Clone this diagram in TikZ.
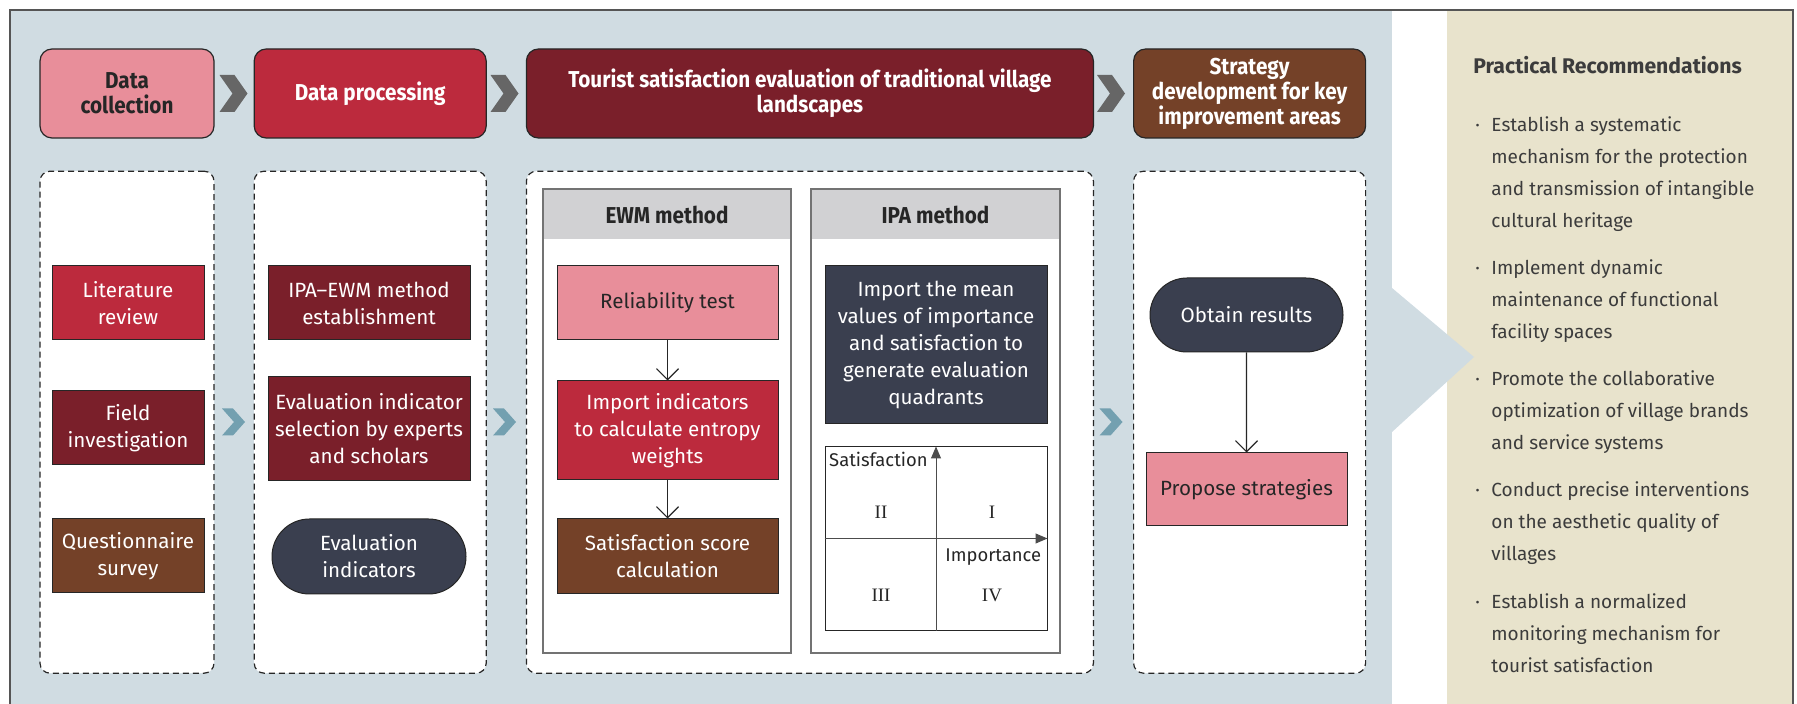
\documentclass[tikz,border=0pt]{standalone}
\usepackage{fontspec}
\setmainfont{Fira Sans}
\newfontfamily\headfont{Fira Sans}[FakeStretch=0.9]
\newfontfamily\numfont{Liberation Serif}
\usepackage{xcolor}
\usepackage{tikz}
\usetikzlibrary{arrows.meta,positioning,shapes.misc}
\definecolor{panelblue}{HTML}{D0DCE2}
\definecolor{panelbeige}{HTML}{E8E3CC}
\definecolor{rosepink}{HTML}{E88E9A}
\definecolor{crimson}{HTML}{BC2A3D}
\definecolor{darkwine}{HTML}{7A1F2A}
\definecolor{umber}{HTML}{744128}
\definecolor{slate}{HTML}{3A3F4F}
\definecolor{bandgray}{HTML}{D1D1D3}
\definecolor{chevgray}{HTML}{666666}
\definecolor{chevteal}{HTML}{73A0B0}
\definecolor{inkgray}{HTML}{3C3C3C}
\definecolor{inkdark}{HTML}{262626}
\definecolor{framegray}{HTML}{555555}
\newcommand\recdot{\makebox[8pt][l]{·}}
\newcommand\recgap{\hspace*{8pt}}
\tikzset{
  stage/.style   ={rounded corners=6pt,draw=inkdark,line width=0.6pt,minimum height=44.5pt,
                   inner sep=2pt,align=center,text=white,
                   font=\headfont\bfseries\fontsize{11.5}{12.5}\selectfont},
  lane/.style    ={rounded corners=5pt,draw=inkdark,line width=0.6pt,dash pattern=on 3pt off 2pt,
                   fill=white,minimum height=251pt},
  cell/.style    ={draw=inkdark,line width=0.5pt,inner sep=2pt,align=center,text=white,
                   font=\fontsize{10.3}{13.5}\selectfont},
  pill/.style    ={cell,rounded rectangle,fill=slate},
  panel/.style   ={draw=black!55,line width=0.6pt,fill=white,outer sep=0pt,minimum height=232pt},
  panelhead/.style={fill=bandgray,anchor=north,minimum height=24.6pt,inner sep=0pt,text=inkdark,
                   font=\headfont\bfseries\fontsize{11.5}{12.5}\selectfont},
  flow/.style    ={-{Straight Barb[length=5.5pt,width=11pt]},line width=0.6pt,draw=inkdark},
  quadaxis/.style={-{Triangle[length=6pt,width=5pt]},line width=0.5pt,draw=black!70},
  quadlabel/.style={inner sep=1pt,text=inkdark,font=\fontsize{9.2}{10}\selectfont},
  numeral/.style ={inner sep=0pt,text=inkdark,font=\numfont\fontsize{9.5}{10}\selectfont},
  rec/.style     ={anchor=base west,align=left,inner sep=0pt,text=inkgray,
                   font=\fontsize{9.5}{16}\selectfont}
}

\begin{document}
\begin{tikzpicture}[x=0.5pt,y=-0.5pt,node distance=19.5pt]
  \useasboundingbox (0,0) rectangle (1797,704);
  % backgrounds
  \fill[panelblue] (10,10) rectangle (1392,704);
  \fill[panelbeige] (1447,10) rectangle (1793,704);
  \fill[panelblue] (1392,288) -- (1474,357) -- (1392,432) -- cycle;
  \draw[framegray,line width=0.8pt] (10,704) -- (10,10) -- (1793,10) -- (1793,704);

  % stage headers
  \node[stage,fill=rosepink,text=inkdark,minimum width=87pt] (collect) at (127,93.5) {Data\\collection};
  \node[stage,fill=crimson,minimum width=116pt,right=of collect] (process) {Data processing};
  \node[stage,fill=darkwine,minimum width=283.5pt,right=of process] (evaluate)
       {Tourist satisfaction evaluation of traditional village\\landscapes};
  \node[stage,fill=umber,minimum width=116pt,right=of evaluate] (strategy)
       {Strategy\\development for key\\improvement areas};
  \foreach \cx in {233.5,504.5,1111}
    \fill[chevgray] (\cx-14,75) -- ++(15,0) -- ++(13,18.5) -- ++(-13,18.5) -- ++(-15,0) -- ++(13,-18.5) -- cycle;

  % dashed lanes
  \node[lane,minimum width=87pt,below=16pt of collect] (laneA) {};
  \node[lane,minimum width=116pt,below=16pt of process] (laneB) {};
  \node[lane,minimum width=283.5pt,below=16pt of evaluate] (laneC) {};
  \node[lane,minimum width=116pt,below=16pt of strategy] (laneD) {};
  \foreach \cx in {233.5,504.5,1111}
    \fill[chevteal] (\cx-11.5,408.5) -- ++(11,0) -- ++(12,13.5) -- ++(-12,13.5) -- ++(-11,0) -- ++(12,-13.5) -- cycle;

  % data collection
  \node[cell,fill=crimson,minimum width=76pt,minimum height=37pt] (litrev) at (128,303) {Literature\\review};
  \node[cell,fill=darkwine,minimum width=76pt,minimum height=37pt,below=25pt of litrev] (field) {Field\\investigation};
  \node[cell,fill=umber,minimum width=76pt,minimum height=37pt,below=26.5pt of field] (survey) {Questionnaire\\survey};

  % data processing
  \node[cell,fill=darkwine,minimum width=101pt,minimum height=37pt] (ipaewm) at (369,303) {IPA--EWM method\\establishment};
  \node[cell,fill=darkwine,minimum width=101pt,minimum height=52pt,below=18pt of ipaewm] (select)
       {Evaluation indicator\\selection by experts\\and scholars};
  \node[pill,minimum width=101pt,minimum height=37.5pt,below=18.5pt of select] (indic) {Evaluation\\indicators};

  % EWM / IPA panels
  \node[panel,minimum width=124pt] (ewm) at (667,421) {};
  \node[panel,minimum width=124.5pt,right=10pt of ewm] (ipa) {};
  \node[panelhead,minimum width=123.4pt] (ewmhead) at ([yshift=-0.3pt]ewm.north) {EWM method};
  \node[panelhead,minimum width=123.9pt] (ipahead) at ([yshift=-0.3pt]ipa.north) {IPA method};

  \node[cell,fill=rosepink,text=inkdark,minimum width=110.5pt,minimum height=37pt] (reltest) at (667.5,303) {Reliability test};
  \node[cell,fill=crimson,minimum width=110.5pt,minimum height=49.5pt,below=20pt of reltest] (entropy)
       {Import indicators\\to calculate entropy\\weights};
  \node[cell,fill=umber,minimum width=110.5pt,minimum height=37.5pt,below=19pt of entropy] (score)
       {Satisfaction score\\calculation};
  \draw[flow] (reltest) -- (entropy);
  \draw[flow] (entropy) -- (score);

  \node[cell,fill=slate,minimum width=111pt,minimum height=79pt] (meanval) at (936,345)
       {Import the mean\\values of importance\\and satisfaction to\\generate evaluation\\quadrants};
  \node[cell,fill=white,minimum width=111pt,minimum height=91.5pt,below=11pt of meanval] (quad) {};
  \draw[quadaxis] (quad.south) -- (quad.north);
  \draw[quadaxis] (quad.west) -- (quad.east);
  \node[quadlabel,anchor=north east] (satlab) at ([xshift=-3pt,yshift=-1.5pt]quad.north) {Satisfaction};
  \node[quadlabel,anchor=north east] (implab) at ([xshift=-2pt,yshift=-4pt]quad.east) {Importance};
  \node[numeral] (q2) at (881,512) {II};
  \node[numeral] (q1) at (992,512) {I};
  \node[numeral] (q3) at (881,595) {III};
  \node[numeral] (q4) at (992,595) {IV};

  % strategy
  \node[pill,minimum width=100.5pt,minimum height=37pt] (obtain) at (1246.5,315) {Obtain results};
  \node[cell,fill=rosepink,text=inkdark,minimum width=100.5pt,minimum height=36.5pt,below=50pt of obtain] (propose)
       {Propose strategies};
  \draw[flow] (obtain) -- (propose);

  % practical recommendations (base = last line)
  \node[rec,font=\bfseries\fontsize{10.6}{12}\selectfont] (rectitle) at (1473,74) {Practical Recommendations};
  \node[rec] (rec1) at (1475,228) {\recdot Establish a systematic\\\recgap mechanism for the protection\\\recgap and transmission of intangible\\\recgap cultural heritage};
  \node[rec] (rec2) at (1475,339) {\recdot Implement dynamic\\\recgap maintenance of functional\\\recgap facility spaces};
  \node[rec] (rec3) at (1475,450) {\recdot Promote the collaborative\\\recgap optimization of village brands\\\recgap and service systems};
  \node[rec] (rec4) at (1475,560) {\recdot Conduct precise interventions\\\recgap on the aesthetic quality of\\\recgap villages};
  \node[rec] (rec5) at (1475,672) {\recdot Establish a normalized\\\recgap monitoring mechanism for\\\recgap tourist satisfaction};
\end{tikzpicture}
\end{document}
